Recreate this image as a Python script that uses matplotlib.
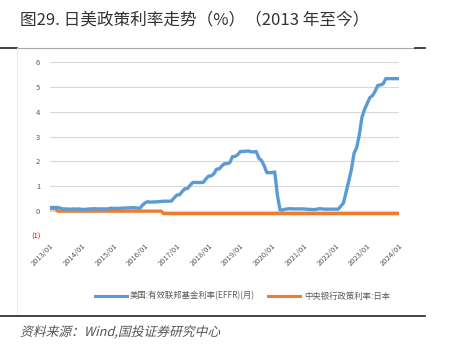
import matplotlib.pyplot as plt
import matplotlib.transforms as mtransforms
from matplotlib.lines import Line2D
from matplotlib.textpath import TextPath
from matplotlib.patches import PathPatch
from matplotlib.font_manager import FontProperties

plt.rcParams['font.family'] = ['Noto Sans CJK SC', 'DejaVu Sans']

# 月度数据：2013/01 - 2024/01
us_effr = [
    0.14, 0.15, 0.14, 0.15, 0.11, 0.09, 0.09, 0.08, 0.08, 0.09, 0.08, 0.09,
    0.07, 0.07, 0.08, 0.09, 0.09, 0.10, 0.09, 0.09, 0.09, 0.09, 0.09, 0.12,
    0.11, 0.11, 0.11, 0.12, 0.12, 0.13, 0.13, 0.14, 0.14, 0.12, 0.12, 0.24,
    0.34, 0.38, 0.36, 0.37, 0.37, 0.38, 0.39, 0.40, 0.40, 0.40, 0.41, 0.54,
    0.65, 0.66, 0.79, 0.90, 0.91, 1.04, 1.15, 1.16, 1.15, 1.15, 1.16, 1.30,
    1.41, 1.42, 1.51, 1.69, 1.70, 1.82, 1.91, 1.91, 1.95, 2.19, 2.20, 2.27,
    2.40, 2.40, 2.41, 2.42, 2.39, 2.38, 2.40, 2.13, 2.04, 1.83, 1.55, 1.55,
    1.55, 1.58, 0.65, 0.05, 0.05, 0.08, 0.09, 0.10, 0.09, 0.09, 0.09, 0.09,
    0.09, 0.08, 0.07, 0.07, 0.06, 0.08, 0.10, 0.09, 0.08, 0.08, 0.08, 0.08,
    0.08, 0.08, 0.20, 0.33, 0.77, 1.21, 1.68, 2.33, 2.56, 3.08, 3.78, 4.10,
    4.33, 4.57, 4.65, 4.83, 5.06, 5.08, 5.12, 5.33, 5.33, 5.33, 5.33, 5.33,
    5.33,
]
jp_rate = [0.10] * 3 + [0.0] * 40 + [-0.10] * 90
years = list(range(2013, 2025))
tick_labels = [f'{y}/01' for y in years]
y_ticks = [-1, 0, 1, 2, 3, 4, 5, 6]
y_labels = ['(1)', '0', '1', '2', '3', '4', '5', '6']

W, H = 449, 349
fig = plt.figure(figsize=(W / 100, H / 100), dpi=100)

def px(x, y):
    return x / W, 1 - y / H

ax = fig.add_axes([50 / W, 1 - 236 / H, 349 / W, 174 / H])
months = list(range(len(us_effr)))
ax.plot(months, jp_rate, color='#ED7D31', lw=2.4, solid_capstyle='butt', zorder=3)
ax.plot(months, us_effr, color='#5B9BD5', lw=2.4, solid_capstyle='round', zorder=4)

ax.set_xlim(0, 132)
ax.set_ylim(-1, 6)
ax.set_yticks(y_ticks)
ax.set_yticklabels(y_labels)
ax.set_xticks([12 * i for i in range(len(years))])
ax.set_xticklabels(tick_labels, rotation=45, ha='right', va='top',
                   rotation_mode='anchor')
ax.tick_params(axis='both', length=0, labelsize=5.5, labelcolor='#595959')
ax.tick_params(axis='y', pad=7)
ax.tick_params(axis='x', pad=4)
ax.get_yticklabels()[0].set_color('#FF0000')
ax.grid(axis='y', color='#D9D9D9', lw=0.8)
ax.set_axisbelow(True)
for s in ax.spines.values():
    s.set_visible(False)

# 图例
fig.add_artist(Line2D([95 / W, 127 / W], [1 - 296 / H] * 2, color='#5B9BD5', lw=2.2))
fig.text(*px(130, 296), '美国:有效联邦基金利率(EFFR)(月)', fontsize=6,
         color='#595959', va='center')
fig.add_artist(Line2D([268 / W, 300 / W], [1 - 296 / H] * 2, color='#ED7D31', lw=2.2))
fig.text(*px(304, 296), '中央银行政策利率:日本', fontsize=6,
         color='#595959', va='center')

# 标题和边框线
fig.text(*px(20, 21), '图29. 日美政策利率走势（%）（2013 年至今）', fontsize=12,
         weight='medium', color='#333333', va='center')
fig.add_artist(Line2D([0, 17 / W], [1 - 48 / H] * 2, color='#222222', lw=1.2))
fig.add_artist(Line2D([17 / W, 415 / W], [1 - 48 / H] * 2, color='#A6A6A6', lw=0.8))
fig.add_artist(Line2D([415 / W, 425 / W], [1 - 48 / H] * 2, color='#222222', lw=1.2))
fig.add_artist(Line2D([17 / W, 17 / W], [1 - 48 / H, 1 - 316 / H], color='#EDEDED', lw=0.6))
fig.add_artist(Line2D([0, 425 / W], [1 - 316 / H] * 2, color='#222222', lw=1.2))

# 资料来源（斜体）
fp = FontProperties(family='Noto Sans CJK SC', weight='light')
tp = TextPath((0, 0), '资料来源：Wind,国投证券研究中心', size=9.2, prop=fp)
tr = (mtransforms.Affine2D().skew_deg(14, 0).scale(1 / 72)
      .translate(20 / 100, (H - 336) / 100) + fig.dpi_scale_trans)
fig.add_artist(PathPatch(tp, transform=tr, color='#555555', lw=0))

fig.savefig('out.png', dpi=100)
